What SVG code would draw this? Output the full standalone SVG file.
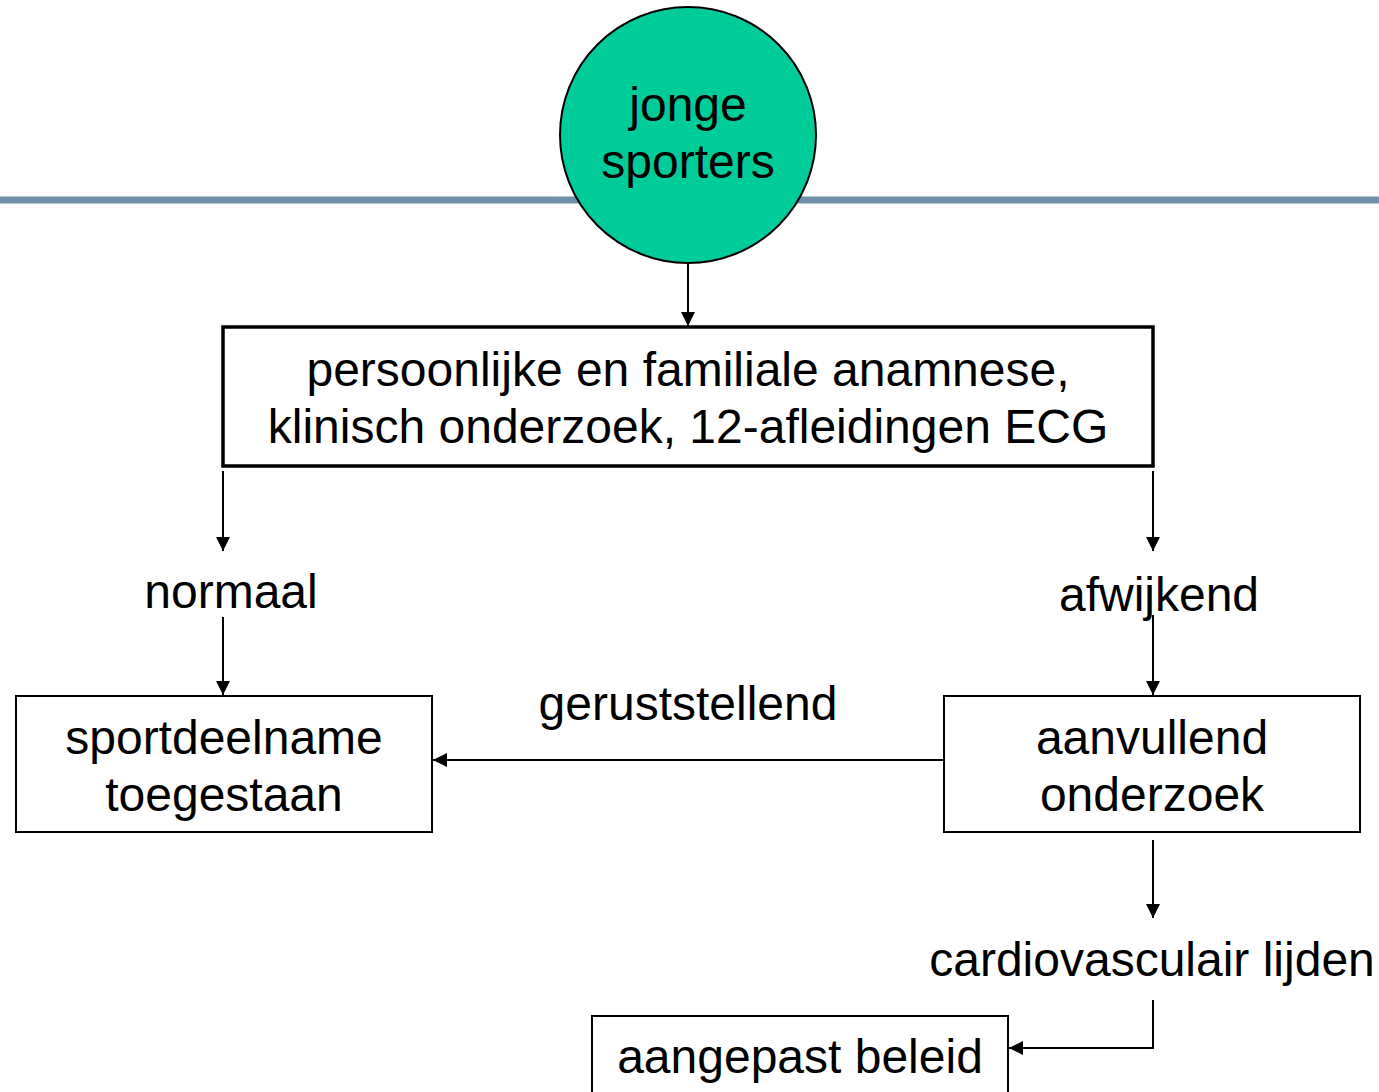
<svg xmlns="http://www.w3.org/2000/svg" width="1379" height="1092" viewBox="0 0 1379 1092">
<style>
text{font-family:"Liberation Sans",Arial,sans-serif;font-size:48px;fill:#000;text-anchor:middle}
.box{fill:#fff;stroke:#000;stroke-width:2}
.conn{fill:none;stroke:#000;stroke-width:2}
</style>
<defs>
<marker id="ah" markerWidth="14" markerHeight="14" refX="14" refY="7" orient="auto" markerUnits="userSpaceOnUse">
<path d="M0,0 L14,7 L0,14 Z" fill="#000"/>
</marker>
</defs>
<rect width="1379" height="1092" fill="#fff"/>
<line x1="0" y1="200" x2="1379" y2="200" stroke="#6F8FAC" stroke-width="7"/>
<g id="connectors">
<line class="conn" x1="688" y1="263" x2="688" y2="326" marker-end="url(#ah)"/>
<line class="conn" x1="223" y1="471" x2="223" y2="551" marker-end="url(#ah)"/>
<line class="conn" x1="223" y1="617" x2="223" y2="695" marker-end="url(#ah)"/>
<line class="conn" x1="1153" y1="471" x2="1153" y2="551" marker-end="url(#ah)"/>
<line class="conn" x1="1153" y1="615" x2="1153" y2="695" marker-end="url(#ah)"/>
<line class="conn" x1="944" y1="760" x2="433" y2="760" marker-end="url(#ah)"/>
<line class="conn" x1="1153" y1="840" x2="1153" y2="918" marker-end="url(#ah)"/>
<polyline class="conn" points="1153,1000 1153,1048 1009,1048" marker-end="url(#ah)"/>
</g>
<g id="jonge-sporters">
<circle cx="688" cy="135" r="128" fill="#00CC99" stroke="#000" stroke-width="2"/>
<text x="688" y="121">jonge</text>
<text x="688" y="178">sporters</text>
</g>
<g id="anamnese">
<rect class="box" x="223" y="327" width="930" height="139" style="stroke-width:3.5"/>
<text x="688" y="386">persoonlijke en familiale anamnese,</text>
<text x="688" y="443">klinisch onderzoek, 12-afleidingen ECG</text>
</g>
<g id="normaal"><text x="231" y="608">normaal</text></g>
<g id="afwijkend"><text x="1159" y="611">afwijkend</text></g>
<g id="sportdeelname">
<rect class="box" x="16" y="696" width="416" height="136"/>
<text x="224" y="754">sportdeelname</text>
<text x="224" y="811">toegestaan</text>
</g>
<g id="aanvullend">
<rect class="box" x="944" y="696" width="416" height="136"/>
<text x="1152" y="754">aanvullend</text>
<text x="1152" y="811">onderzoek</text>
</g>
<g id="geruststellend"><text x="688" y="720">geruststellend</text></g>
<g id="cardiovasculair"><text x="1152" y="976">cardiovasculair lijden</text></g>
<g id="aangepast">
<rect class="box" x="592" y="1016" width="416" height="90"/>
<text x="800" y="1073">aangepast beleid</text>
</g>
</svg>
